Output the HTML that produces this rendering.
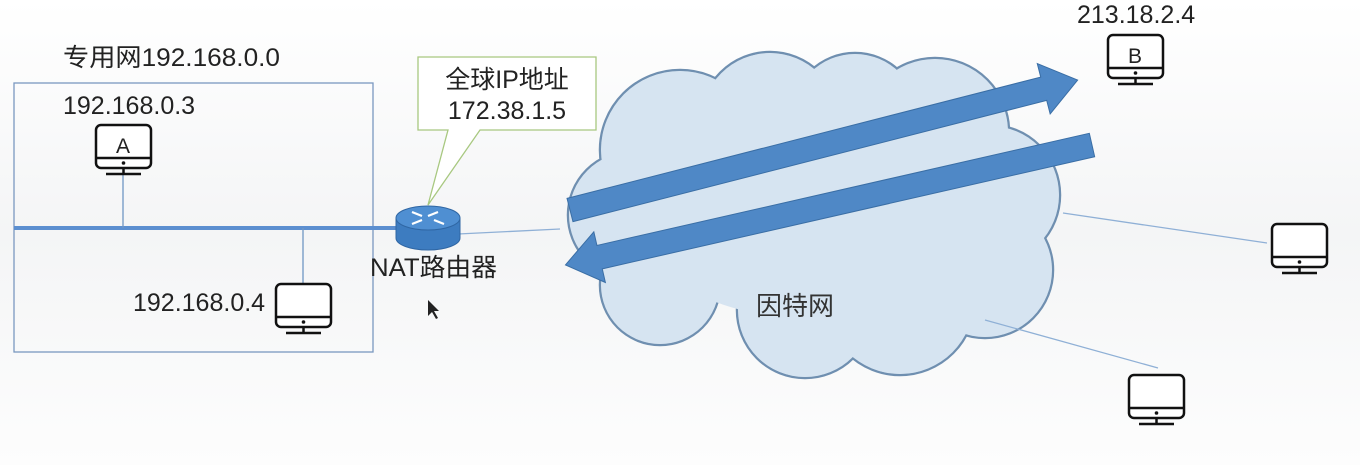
<!DOCTYPE html>
<html><head><meta charset="utf-8"><style>
html,body{margin:0;padding:0;background:#fafafa;}
svg{display:block;font-family:"Liberation Sans","Noto Sans CJK SC",sans-serif;}
</style></head><body>
<svg width="1360" height="465" viewBox="0 0 1360 465" xmlns="http://www.w3.org/2000/svg">
<defs>
<linearGradient id="bg" x1="0" y1="0" x2="0" y2="1"><stop offset="0" stop-color="#ffffff"/><stop offset="0.5" stop-color="#f4f5f6"/><stop offset="1" stop-color="#fdfdfd"/></linearGradient>
<g id="pc">
<rect x="1" y="1" width="55" height="43" rx="5" fill="#fff" stroke="#111" stroke-width="2.5"/>
<line x1="1" y1="34" x2="56" y2="34" stroke="#111" stroke-width="2.5"/>
<circle cx="28.5" cy="39" r="1.8" fill="#111"/>
<line x1="28.5" y1="44" x2="28.5" y2="50" stroke="#111" stroke-width="2.5"/>
<line x1="11" y1="50" x2="46" y2="50" stroke="#111" stroke-width="2.5"/>
</g>
</defs>
<rect width="1360" height="465" fill="url(#bg)"/>

<rect x="14" y="83" width="359" height="269" fill="none" stroke="#7a98c0" stroke-width="1.3"/>
<line x1="14" y1="228" x2="396" y2="228" stroke="#5b8fd0" stroke-width="4"/>
<line x1="123" y1="174" x2="123" y2="228" stroke="#6f96c4" stroke-width="1.3"/>
<line x1="303" y1="228" x2="303" y2="283" stroke="#6f96c4" stroke-width="1.3"/>
<use href="#pc" x="95" y="124"/>
<text x="123" y="153" font-size="21" text-anchor="middle" fill="#222">A</text>
<use href="#pc" x="275" y="283"/>
<text x="63" y="66" font-size="25" fill="#222" textLength="217" lengthAdjust="spacingAndGlyphs">专用网192.168.0.0</text>
<text x="63" y="114" font-size="25" fill="#222">192.168.0.3</text>
<text x="133" y="311" font-size="25" fill="#222">192.168.0.4</text>

<line x1="458" y1="234" x2="560" y2="229" stroke="#8fb0d6" stroke-width="1.3"/>

<g stroke="#6f8fb0" stroke-width="2.5" fill="#d6e4f1">
<circle cx="680" cy="150" r="80"/><circle cx="770" cy="122" r="70"/><circle cx="855" cy="117" r="64"/>
<circle cx="935" cy="132" r="74"/><circle cx="990" cy="195" r="70"/><circle cx="985" cy="270" r="68"/>
<circle cx="900" cy="300" r="75"/><circle cx="805" cy="310" r="68"/><circle cx="660" cy="285" r="60"/>
<circle cx="632" cy="215" r="64"/>
</g>
<g fill="#d6e4f1">
<circle cx="680" cy="150" r="79"/><circle cx="770" cy="122" r="69"/><circle cx="855" cy="117" r="63"/>
<circle cx="935" cy="132" r="73"/><circle cx="990" cy="195" r="69"/><circle cx="985" cy="270" r="67"/>
<circle cx="900" cy="300" r="74"/><circle cx="805" cy="310" r="67"/><circle cx="660" cy="285" r="59"/>
<circle cx="632" cy="215" r="63"/><ellipse cx="820" cy="210" rx="190" ry="110"/>
</g>
<text x="795" y="315" font-size="26" text-anchor="middle" fill="#333">因特网</text>

<g transform="translate(570,210) rotate(-14.36)" fill="#4f88c6" stroke="#3a6ea5" stroke-width="1">
<path d="M0,-12 L489,-12 L489,-26 L524,0 L489,26 L489,12 L0,12 Z"/>
</g>
<g transform="translate(1092,145) rotate(167.17)" fill="#4f88c6" stroke="#3a6ea5" stroke-width="1">
<path d="M0,-12 L505,-12 L505,-26 L540,0 L505,26 L505,12 L0,12 Z"/>
</g>

<line x1="1063" y1="213" x2="1267" y2="243" stroke="#8fb0d6" stroke-width="1.3"/>
<line x1="985" y1="320" x2="1158" y2="368" stroke="#8fb0d6" stroke-width="1.3"/>
<use href="#pc" x="1107" y="34"/>
<text x="1135" y="63" font-size="21" text-anchor="middle" fill="#222">B</text>
<use href="#pc" x="1271" y="223"/>
<use href="#pc" x="1128" y="374"/>
<text x="1077" y="23" font-size="25" fill="#222">213.18.2.4</text>

<path d="M418,57 L596,57 L596,130 L480,130 L428,205 L448,130 L418,130 Z" fill="#fff" stroke="#a8c880" stroke-width="1.3"/>
<text x="507" y="88" font-size="25" text-anchor="middle" fill="#222">全球IP地址</text>
<text x="507" y="119" font-size="25" text-anchor="middle" fill="#222">172.38.1.5</text>

<path d="M396,218 L396,238 A32,12 0 0 0 460,238 L460,218 Z" fill="#3d7cc0" stroke="#2f66a3" stroke-width="1"/>
<ellipse cx="428" cy="218" rx="32" ry="12" fill="#4f8fd2" stroke="#2f66a3" stroke-width="1"/>
<g stroke="#fff" stroke-width="2.2" fill="none">
<path d="M412,212 L422,216 M438,212 L428,216 M412,224 L422,220 M444,224 L434,220"/>
</g>
<text x="370" y="276" font-size="25" fill="#222" textLength="127" lengthAdjust="spacingAndGlyphs">NAT路由器</text>

<path d="M428,300 L428,316 L432,312 L436,319 L438,318 L434,311 L439,311 Z" fill="#222"/>
</svg>
</body></html>
